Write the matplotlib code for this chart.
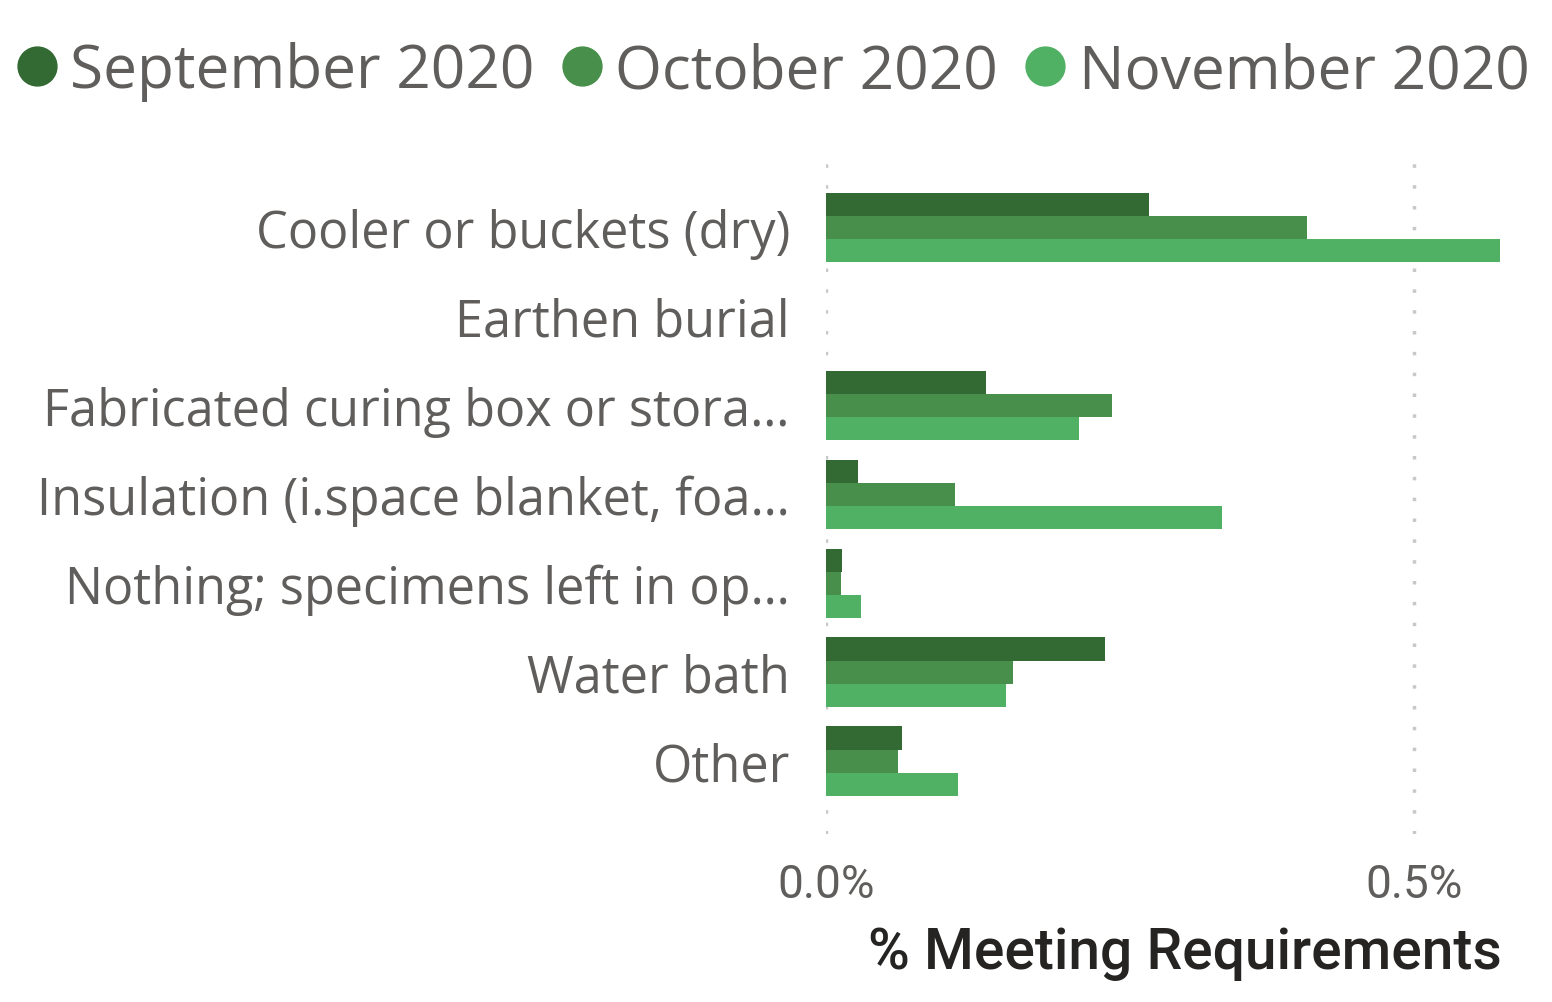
import numpy as np
import matplotlib.pyplot as plt
from matplotlib.lines import Line2D

# categories and values (% meeting requirements)
categories = ['Cooler or buckets (dry)', 'Earthen burial', 'Fabricated curing box or stora…',
              'Insulation (i.space blanket, foa…', 'Nothing; specimens left in op…',
              'Water bath', 'Other']
series_names = ['September 2020', 'October 2020', 'November 2020']
sep_vals = [0.275, 0.0, 0.136, 0.027, 0.014, 0.237, 0.065]
oct_vals = [0.409, 0.0, 0.243, 0.110, 0.013, 0.159, 0.061]
nov_vals = [0.573, 0.0, 0.215, 0.337, 0.030, 0.153, 0.112]
colors = ['#336933', '#478F4A', '#50B064']
xticks = [0.0, 0.5]
xticklabels = ['0.0%', '0.5%']

plt.rcParams['font.family'] = ['Open Sans', 'DejaVu Sans']

fig = plt.figure(figsize=(15.52, 10.03), dpi=100)
ax = fig.add_axes([826 / 1552, 1 - 835 / 1003, (1502 - 826) / 1552, (835 - 160) / 1003])

y = np.arange(len(categories))
h = 0.26
for i, vals in enumerate([sep_vals, oct_vals, nov_vals]):
    ax.barh(y + (i - 1) * h, vals, height=h, color=colors[i], zorder=2)

ax.set_xlim(0, 0.575)
ax.set_ylim(6.82, -0.77)
ax.set_yticks(y)
ax.set_yticklabels(categories, fontsize=36.4, color='#605E5C')
ax.tick_params(axis='y', length=0, pad=26)
ax.set_xticks(xticks)
ax.set_xticklabels(xticklabels, fontsize=33, color='#605E5C', family='Roboto')
ax.tick_params(axis='x', length=0, pad=20)
ax.grid(axis='x', color='#C8C8C8', linestyle=(0, (1, 5)), linewidth=2.5, zorder=0)
for s in ax.spines.values():
    s.set_visible(False)

ax.set_xlabel('% Meeting Requirements', fontsize=41, color='#252423', family='Roboto',
              fontweight='medium', loc='right', labelpad=14)

handles = [Line2D([], [], marker='o', linestyle='none', markersize=28, color=c) for c in colors]
fig.legend(handles, series_names, loc='upper left', bbox_to_anchor=(0.0045, 0.958), ncol=3,
           frameon=False, fontsize=43.5, labelcolor='#605E5C', handletextpad=0.05,
           columnspacing=0.28, handlelength=1.0, borderpad=0.0, borderaxespad=0.0)

fig.savefig('out.png', dpi=100, facecolor='white')
